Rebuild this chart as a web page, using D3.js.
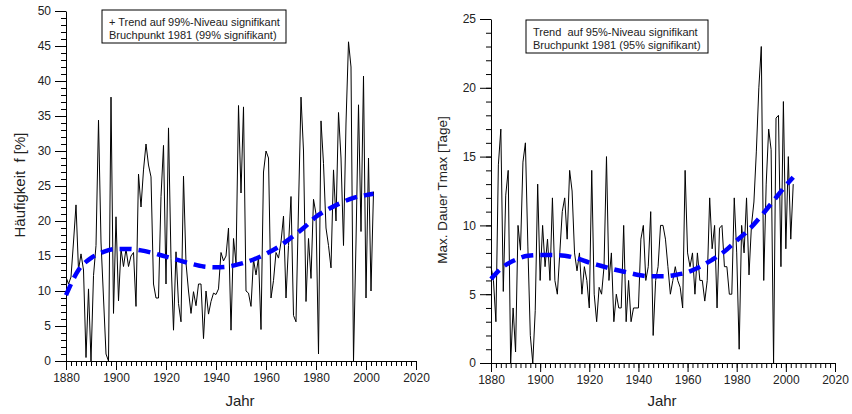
<!DOCTYPE html>
<html>
<head>
<meta charset="utf-8">
<script src="https://cdn.jsdelivr.net/npm/d3@7/dist/d3.min.js"></script>
<style>
    body { margin: 0; background: #fff; }
    svg { display: block; }
    text { font-family: "Liberation Sans", Arial, sans-serif; fill: #222; }
</style>
</head>
<body>
<svg id="paper" width="852" height="414"></svg>
<script>
// yearly series start in 1880, one value per year up to 2003
var startYear = 1880;

// Haeufigkeit f [%]
var freqValues = [
    12, 11, 12, 17, 22.3, 13, 15.3, 13, 0.5, 10.3,
    0, 12.2, 16.5, 34.4, 17, 9, 1, 0, 37.7, 6.8,
    20.6, 8.6, 16, 13.5, 16, 13.5, 15, 15.5, 7.8, 26.7,
    22, 27.3, 31, 28, 26.3, 11, 9, 9, 23.5, 30.8,
    11, 33.3, 14.6, 4.4, 15.6, 8.2, 5.6, 26.4, 14, 10,
    6.8, 9.9, 7.9, 11, 11, 3.2, 10, 6.7, 8.5, 9.7,
    9.5, 10.3, 15.5, 14.3, 15, 19, 4.4, 17.5, 14, 36.5,
    24, 36.3, 10, 9.7, 7.8, 14.5, 12.3, 14.8, 4.5, 27,
    30, 29, 9, 11.5, 15.5, 14.7, 17, 20.7, 9, 16.5,
    23.5, 6.5, 5.6, 22, 37.7, 30, 8.5, 17.5, 11.8, 23.1,
    21, 1, 34.3, 28.2, 19, 16.5, 13.3, 27.3, 20, 35.5,
    29, 16.5, 34, 45.6, 42, 0, 17, 36.6, 18.5, 40.7,
    9, 29, 10, 24.2
];

// Max. Dauer Tmax [Tage]
var durValues = [
    7, 6, 3, 14.4, 17, 5.2, 12.2, 14, 0, 4,
    0.8, 10, 8.2, 14.6, 16, 8.5, 2, 0, 3.8, 13,
    6, 10, 7, 9, 6, 12, 6, 5, 8, 11,
    12, 9, 14, 12.5, 8, 6.7, 8, 5, 7, 6,
    4, 14, 5, 3, 5.5, 5, 7, 15, 6, 8,
    3, 5, 4, 4, 10, 3, 6, 3, 4, 4,
    4, 9, 10, 6, 7, 11, 2, 6, 7, 10,
    10, 9, 7, 5, 6, 7, 6, 5.5, 4, 14,
    8, 7, 8, 5, 8, 6, 6, 4.5, 6, 12,
    8.3, 10, 4, 9.8, 10, 7, 7, 5, 5, 12,
    8, 1, 10, 8, 12, 6.4, 10, 11.7, 15.4, 20,
    23, 6, 13, 17, 15.5, 0, 17.8, 18, 7, 19,
    8.3, 15, 9, 13
];

// dashed trend curves, read at these years
var trendYears = [1880, 1885, 1890, 1895, 1900, 1905, 1910, 1915, 1920, 1925, 1930, 1935, 1940,
    1945, 1950, 1955, 1960, 1965, 1970, 1975, 1980, 1985, 1990, 1995, 2000, 2003];
var freqTrend = [9.4, 13, 14.7, 15.6, 16, 16, 15.8, 15.4, 14.9, 14.4, 13.9, 13.5, 13.4,
    13.5, 13.9, 14.5, 15.3, 16.3, 17.6, 19, 20.6, 21.7, 22.6, 23.3, 23.7, 23.9];
var durTrend = [6.1, 7, 7.5, 7.8, 7.85, 7.85, 7.8, 7.6, 7.3, 7.05, 6.8, 6.6, 6.4,
    6.3, 6.3, 6.4, 6.6, 7, 7.5, 8.1, 8.9, 9.7, 10.7, 11.8, 12.9, 13.5];

var yearTicks = [1880, 1900, 1920, 1940, 1960, 1980, 2000, 2020];
var freqTicks = [0, 5, 10, 15, 20, 25, 30, 35, 40, 45, 50];
var durTicks = [0, 5, 10, 15, 20, 25];

var freqNote = ["+ Trend auf 99%-Niveau signifikant", "Bruchpunkt 1981 (99% signifikant)"];
var durNote = ["Trend  auf 95%-Niveau signifikant", "Bruchpunkt 1981 (95% signifikant)"];

var svg = d3.select("#paper");

function drawPanel(p) {
    var g = svg.append("g");
    var x = d3.scaleLinear().domain([1880, 2020]).range([p.left, p.right]);
    var y = d3.scaleLinear().domain([0, p.yMax]).range([p.bottom, p.top]);

    // minor ticks first, majors on top
    g.append("g")
        .attr("transform", "translate(0," + p.bottom + ")")
        .call(d3.axisBottom(x).tickValues(d3.range(1880, 2021, 2)).tickSize(5).tickSizeOuter(0).tickFormat(""))
        .call(function (a) { a.select(".domain").remove(); });
    g.append("g")
        .attr("transform", "translate(" + p.left + ",0)")
        .call(d3.axisLeft(y).tickValues(d3.range(0, p.yMax + 1)).tickSize(5).tickSizeOuter(0).tickFormat(""))
        .call(function (a) { a.select(".domain").remove(); });

    var xAxis = g.append("g")
        .attr("transform", "translate(0," + p.bottom + ")")
        .call(d3.axisBottom(x).tickValues(yearTicks).tickFormat(d3.format("d"))
            .tickSize(9).tickSizeOuter(0).tickPadding(3));
    var yAxis = g.append("g")
        .attr("transform", "translate(" + p.left + ",0)")
        .call(d3.axisLeft(y).tickValues(p.ticks).tickSize(11).tickSizeOuter(0).tickPadding(4));

    g.selectAll(".tick line, .domain").attr("stroke", "#000").attr("stroke-width", 1);
    xAxis.selectAll("text").attr("font-size", 12).attr("fill", "#222");
    yAxis.selectAll("text").attr("font-size", 12).attr("fill", "#222");

    // yearly values
    var line = d3.line()
        .x(function (d, i) { return x(startYear + i); })
        .y(function (d) { return y(d); });
    g.append("path")
        .datum(p.values)
        .attr("d", line)
        .attr("fill", "none")
        .attr("stroke", "#000")
        .attr("stroke-width", 1);

    // trend curve
    var trend = d3.line()
        .curve(d3.curveMonotoneX)
        .x(function (d, i) { return x(trendYears[i]); })
        .y(function (d) { return y(d); });
    g.append("path")
        .datum(p.trend)
        .attr("d", trend)
        .attr("fill", "none")
        .attr("stroke", "#0000ff")
        .attr("stroke-width", 4.5)
        .attr("stroke-dasharray", "12,7");

    // note box
    g.append("rect")
        .attr("x", p.box[0]).attr("y", p.box[1])
        .attr("width", p.box[2]).attr("height", p.box[3])
        .attr("fill", "#fff").attr("stroke", "#000").attr("stroke-width", 1);
    p.note.forEach(function (t, i) {
        g.append("text")
            .attr("x", p.box[0] + 7)
            .attr("y", p.box[1] + 16 + i * 12.5)
            .attr("font-size", 11)
            .style("white-space", "pre")
            .attr("fill", "#000")
            .text(t);
    });

    // axis titles
    g.append("text")
        .attr("transform", "translate(" + p.yLabelAt[0] + "," + p.yLabelAt[1] + ") rotate(-90)")
        .attr("text-anchor", "middle")
        .attr("dy", "0.35em")
        .attr("font-size", p.yLabelSize)
        .style("white-space", "pre")
        .text(p.yLabel);
    g.append("text")
        .attr("x", (p.left + p.right) / 2 - 1)
        .attr("y", 406)
        .attr("text-anchor", "middle")
        .attr("font-size", 15)
        .text("Jahr");
}

drawPanel({
    left: 66, right: 416, top: 11, bottom: 361, yMax: 50,
    ticks: freqTicks, values: freqValues, trend: freqTrend,
    box: [102, 10, 184, 33], note: freqNote,
    yLabel: "Häufigkeit  f [%]", yLabelAt: [20, 185], yLabelSize: 15
});

drawPanel({
    left: 491, right: 835, top: 19, bottom: 363, yMax: 25,
    ticks: durTicks, values: durValues, trend: durTrend,
    box: [526, 20, 182, 33], note: durNote,
    yLabel: "Max. Dauer Tmax [Tage]", yLabelAt: [442, 190], yLabelSize: 13.5
});
</script>
</body>
</html>
